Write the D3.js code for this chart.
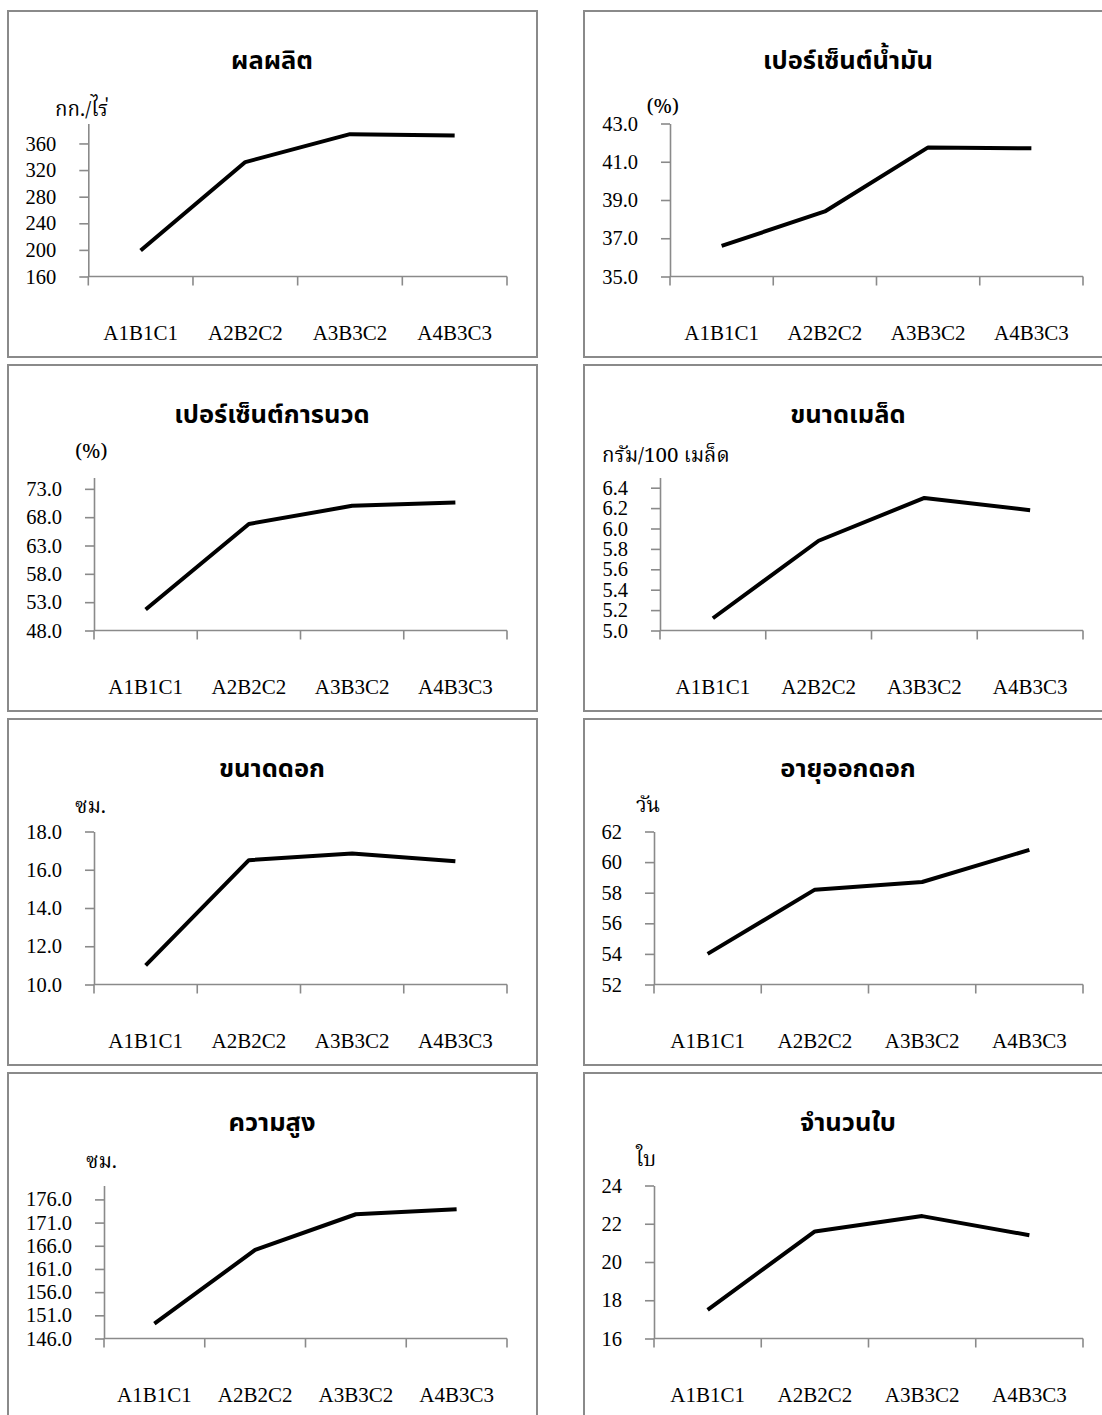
<!DOCTYPE html>
<html>
<head>
<meta charset="utf-8">
<script src="https://cdn.jsdelivr.net/npm/d3@7"></script>
<style>
  html, body { margin: 0; padding: 0; background: #fff; }
  svg { display: block; }
  .tick-label, .cat-label { font-family: "Liberation Serif", "Times New Roman", serif; fill: #000; }
  .title { font-family: "Noto Sans Thai", "Noto Sans Thai UI", "Loma", "Garuda", "Tlwg Typo", "Noto Sans", sans-serif; font-weight: bold; fill: #000; }
  .unit { font-family: "Noto Serif Thai", "Liberation Serif", "Noto Sans Thai", "Loma", serif; fill: #000; }
</style>
</head>
<body>
<svg id="chart" width="1102" height="1415"></svg>
<script>
// ---------- data ----------
const categories = ["A1B1C1", "A2B2C2", "A3B3C2", "A4B3C3"];

const titles = ["ผลผลิต", "เปอร์เซ็นต์น้ำมัน", "เปอร์เซ็นต์การนวด", "ขนาดเมล็ด",
                "ขนาดดอก", "อายุออกดอก", "ความสูง", "จำนวนใบ"];
const units = ["กก./ไร่", "(%)", "(%)", "กรัม/100 เมล็ด", "ซม.", "วัน", "ซม.", "ใบ"];

const yieldValues      = [199, 332, 374, 372];
const oilValues        = [36.6, 38.4, 41.75, 41.7];
const threshValues     = [51.7, 66.8, 70.0, 70.6];
const seedSizeValues   = [5.12, 5.88, 6.30, 6.18];
const flowerSizeValues = [11.0, 16.5, 16.85, 16.45];
const floweringDays    = [54.0, 58.2, 58.7, 60.8];
const heightValues     = [149.2, 165.1, 172.8, 173.9];
const leafValues       = [17.5, 21.6, 22.4, 21.4];

const yieldTicks      = [160, 200, 240, 280, 320, 360];
const oilTicks        = [35, 37, 39, 41, 43];
const threshTicks     = [48, 53, 58, 63, 68, 73];
const seedSizeTicks   = [5.0, 5.2, 5.4, 5.6, 5.8, 6.0, 6.2, 6.4];
const flowerSizeTicks = [10, 12, 14, 16, 18];
const dayTicks        = [52, 54, 56, 58, 60, 62];
const heightTicks     = [146, 151, 156, 161, 166, 171, 176];
const leafTicks       = [16, 18, 20, 22, 24];

const yieldDomain      = [160, 390];
const oilDomain        = [35, 43];
const threshDomain     = [48, 75];
const seedSizeDomain   = [5.0, 6.5];
const flowerSizeDomain = [10, 18];
const dayDomain        = [52, 62];
const heightDomain     = [146, 179];
const leafDomain       = [16, 24];

const tickFormats = [",d", ".1f", ".1f", ".1f", ".1f", "d", ".1f", "d"];

// ---------- layout ----------
const panels = [
  { values: yieldValues,      ticks: yieldTicks,      domain: yieldDomain,      col: 0, row: 0, axisX: 80.3, unitX: 47,  unitY: 105 },
  { values: oilValues,        ticks: oilTicks,        domain: oilDomain,        col: 1, row: 0, axisX: 86,   unitX: 62.5, unitY: 102 },
  { values: threshValues,     ticks: threshTicks,     domain: threshDomain,     col: 0, row: 1, axisX: 86,   unitX: 67,  unitY: 93 },
  { values: seedSizeValues,   ticks: seedSizeTicks,   domain: seedSizeDomain,   col: 1, row: 1, axisX: 76,   unitX: 18,  unitY: 97 },
  { values: flowerSizeValues, ticks: flowerSizeTicks, domain: flowerSizeDomain, col: 0, row: 2, axisX: 86,   unitX: 67,  unitY: 94 },
  { values: floweringDays,    ticks: dayTicks,        domain: dayDomain,        col: 1, row: 2, axisX: 70,   unitX: 52,  unitY: 93 },
  { values: heightValues,     ticks: heightTicks,     domain: heightDomain,     col: 0, row: 3, axisX: 96,   unitX: 78,  unitY: 95 },
  { values: leafValues,       ticks: leafTicks,       domain: leafDomain,       col: 1, row: 3, axisX: 70,   unitX: 52,  unitY: 93 }
];

const colX = [8, 584];
const rowY = [11, 365, 719, 1073];
const panelW = 529, panelH = 346;
const plotTop = 112.5, plotBottom = 265.5, plotRight = 499;
const gridColor = "#8a8a8a";

const svg = d3.select("#chart");
svg.append("rect").attr("width", 1102).attr("height", 1415).attr("fill", "#fff");

panels.forEach((p, i) => {
  const g = svg.append("g").attr("transform", `translate(${colX[p.col]},${rowY[p.row]})`);

  // frame
  g.append("rect")
    .attr("x", 0).attr("y", 0).attr("width", panelW).attr("height", panelH)
    .attr("fill", "none").attr("stroke", gridColor).attr("stroke-width", 2);

  // title
  g.append("text").attr("class", "title")
    .attr("x", panelW / 2 - 0.5).attr("y", 58)
    .attr("text-anchor", "middle").attr("font-size", 25.5)
    .text(titles[i]);

  // unit
  g.append("text").attr("class", "unit")
    .attr("x", p.unitX).attr("y", p.unitY)
    .attr("font-size", 20.5)
    .text(units[i]);

  const x = d3.scaleBand().domain(categories).range([p.axisX, plotRight]);
  const y = d3.scaleLinear().domain(p.domain).range([plotBottom, plotTop]);

  // y axis
  const yAxis = d3.axisLeft(y).tickValues(p.ticks).tickFormat(d3.format(tickFormats[i]))
    .tickSizeInner(9).tickSizeOuter(0).tickPadding(23);
  const ya = g.append("g").attr("transform", `translate(${p.axisX},0)`).call(yAxis);
  ya.select(".domain").attr("stroke", gridColor).attr("stroke-width", 1.6);
  ya.selectAll(".tick line").attr("stroke", gridColor).attr("stroke-width", 1.6);
  ya.selectAll(".tick text").attr("class", "tick-label")
    .attr("font-size", 20.5).attr("fill", "#000");

  // x axis (with ticks at category boundaries)
  const xa = g.append("g").attr("transform", `translate(0,${plotBottom})`);
  xa.append("line")
    .attr("x1", p.axisX).attr("x2", plotRight)
    .attr("stroke", gridColor).attr("stroke-width", 1.6);
  const bounds = categories.map(c => x(c)).concat([x(categories[categories.length - 1]) + x.bandwidth()]);
  xa.selectAll(".xt").data(bounds).join("line").attr("class", "xt")
    .attr("x1", d => d).attr("x2", d => d).attr("y1", 0).attr("y2", 9)
    .attr("stroke", gridColor).attr("stroke-width", 1.6);
  xa.selectAll(".cat-label").data(categories).join("text").attr("class", "cat-label")
    .attr("x", d => x(d) + x.bandwidth() / 2).attr("y", 63)
    .attr("text-anchor", "middle").attr("font-size", 21)
    .text(d => d);

  // line
  const line = d3.line()
    .x((d, j) => x(categories[j]) + x.bandwidth() / 2)
    .y(d => y(d));
  g.append("path").datum(p.values)
    .attr("d", line)
    .attr("fill", "none").attr("stroke", "#000").attr("stroke-width", 4)
    .attr("stroke-linejoin", "round").attr("stroke-linecap", "butt");
});
</script>
</body>
</html>
